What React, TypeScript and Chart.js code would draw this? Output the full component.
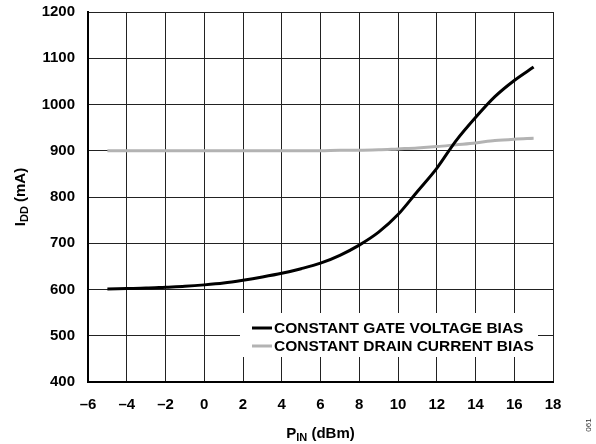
import React, { useEffect, useRef } from 'react';
import { Chart, registerables } from 'chart.js';

Chart.register(...registerables);

const pinDbm = [-5, -4, -3, -2, -1, 0, 1, 2, 3, 4, 5, 6, 7, 8, 9, 10, 11, 12, 13, 14, 15, 16, 17];
const gateVoltageBias = [601, 602, 603, 605, 607, 610, 614, 620, 627, 635, 645, 657, 674, 696, 724, 762, 812, 862, 922, 972, 1017, 1052, 1081];
const drainCurrentBias = [900, 900, 900, 900, 900, 900, 900, 900, 900, 900, 900, 900, 901, 901, 902, 904, 906, 909, 913, 917, 922, 925, 927];
const seriesLabels = ['CONSTANT GATE VOLTAGE BIAS', 'CONSTANT DRAIN CURRENT BIAS'];
const seriesColors = ['#000000', '#b3b3b3'];
const xTitle = { main: 'P', sub: 'IN', rest: ' (dBm)' };
const yTitle = { main: 'I', sub: 'DD', rest: ' (mA)' };
const figureId = '061';

const FONT = '"Liberation Sans", Arial, sans-serif';

function drawSubTitle(ctx: CanvasRenderingContext2D, t: { main: string; sub: string; rest: string }, cx: number, baseline: number) {
  const big = `bold 15px ${FONT}`;
  const small = `bold 11px ${FONT}`;
  ctx.font = big;
  const w1 = ctx.measureText(t.main).width;
  const w3 = ctx.measureText(t.rest).width;
  ctx.font = small;
  const w2 = ctx.measureText(t.sub).width;
  let x = cx - (w1 + w2 + w3) / 2;
  ctx.textAlign = 'left';
  ctx.textBaseline = 'alphabetic';
  ctx.font = big;
  ctx.fillText(t.main, x, baseline);
  x += w1;
  ctx.font = small;
  ctx.fillText(t.sub, x, baseline + 3);
  x += w2;
  ctx.font = big;
  ctx.fillText(t.rest, x, baseline);
}

const annotations = {
  id: 'annotations',
  afterDraw(chart: any) {
    const { ctx, chartArea } = chart;
    ctx.save();
    // legend
    const lx = chartArea.left + 152;
    const ly = chartArea.bottom - 69;
    ctx.fillStyle = '#ffffff';
    ctx.fillRect(lx, ly, chartArea.right - 15 - lx, 44);
    ctx.font = `bold 15.5px ${FONT}`;
    ctx.textBaseline = 'middle';
    ctx.textAlign = 'left';
    seriesLabels.forEach((label, i) => {
      const y = ly + 15 + i * 18;
      ctx.strokeStyle = seriesColors[i];
      ctx.lineWidth = 3;
      ctx.beginPath();
      ctx.moveTo(lx + 12, y);
      ctx.lineTo(lx + 32, y);
      ctx.stroke();
      ctx.fillStyle = '#000';
      ctx.fillText(label, lx + 34, y + 1);
    });
    // axis titles
    ctx.fillStyle = '#000';
    drawSubTitle(ctx, xTitle, (chartArea.left + chartArea.right) / 2, 438);
    ctx.save();
    ctx.translate(25, (chartArea.top + chartArea.bottom) / 2);
    ctx.rotate(-Math.PI / 2);
    drawSubTitle(ctx, yTitle, 0, 0);
    ctx.restore();
    // figure id
    ctx.save();
    ctx.translate(589, 425);
    ctx.rotate(-Math.PI / 2);
    ctx.font = `8px ${FONT}`;
    ctx.fillStyle = '#333';
    ctx.textAlign = 'center';
    ctx.textBaseline = 'middle';
    ctx.fillText(figureId, 0, 0);
    ctx.restore();
    ctx.restore();
  },
};

const dash = (v: any) => String(v).replace('-', '\u2013');

export default function App() {
  const ref = useRef<HTMLCanvasElement | null>(null);
  useEffect(() => {
    if (!ref.current) return;
    const chart = new Chart(ref.current, {
      type: 'line',
      data: {
        datasets: [
          {
            label: seriesLabels[0],
            data: pinDbm.map((x, i) => ({ x, y: gateVoltageBias[i] })),
            borderColor: seriesColors[0],
            borderWidth: 3,
            pointRadius: 0,
            cubicInterpolationMode: 'monotone',
            fill: false,
          },
          {
            label: seriesLabels[1],
            data: pinDbm.map((x, i) => ({ x, y: drainCurrentBias[i] })),
            borderColor: seriesColors[1],
            borderWidth: 3,
            pointRadius: 0,
            cubicInterpolationMode: 'monotone',
            fill: false,
          },
        ],
      },
      options: {
        responsive: false,
        animation: false,
        layout: { padding: { left: 0, top: 12, right: 43, bottom: 0 } },
        plugins: { legend: { display: false }, tooltip: { enabled: false } },
        scales: {
          x: {
            type: 'linear',
            min: -6,
            max: 18,
            afterFit: (s: any) => { s.height = 62; s.paddingLeft = 0; s.paddingRight = 0; },
            ticks: {
              stepSize: 2,
              color: '#000',
              font: { family: FONT, size: 15, weight: 'bold' },
              padding: 14,
              maxRotation: 0,
              callback: dash,
            },
            grid: { color: '#222', lineWidth: 1, drawTicks: false },
            border: { color: '#000', width: 2 },
          },
          y: {
            min: 400,
            max: 1200,
            afterFit: (s: any) => { s.width = 88; s.paddingTop = 0; s.paddingBottom = 0; },
            ticks: {
              stepSize: 100,
              color: '#000',
              font: { family: FONT, size: 15, weight: 'bold' },
              padding: 13,
              callback: dash,
            },
            grid: { color: '#222', lineWidth: 1, drawTicks: false },
            border: { color: '#000', width: 2 },
          },
        },
      },
      plugins: [annotations],
    } as any);
    return () => chart.destroy();
  }, []);
  return (
    <canvas
      ref={ref}
      width={596}
      height={444}
      style={{ position: 'absolute', left: 0, top: 0, display: 'block', background: '#fff' }}
    />
  );
}
